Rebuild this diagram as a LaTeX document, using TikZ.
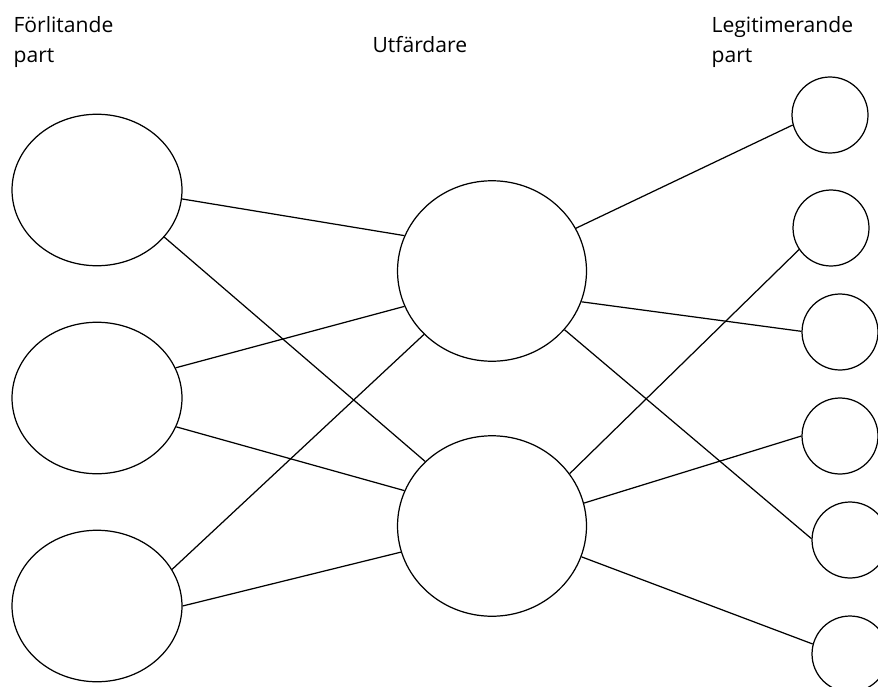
\documentclass[tikz,border=0pt]{standalone}
\usepackage{fontspec}
\setmainfont{Open Sans}
\usetikzlibrary{shapes.geometric}

\begin{document}
\begin{tikzpicture}
  %[x=0.02cm,y=-0.02cm,every node/.style={ellipse,draw}]
  [x=0.02cm,y=-0.02cm,line width=0.7pt,
   fp/.style={ellipse,draw,inner sep=0pt,minimum width=3.4cm,minimum height=3.03cm},
   up/.style={ellipse,draw,inner sep=0pt,minimum width=3.78cm,minimum height=3.61cm},
   lp/.style={circle,draw,inner sep=0pt,minimum size=1.52cm},
   lbl/.style={align=left,anchor=base west,inner sep=0pt,font=\fontsize{12}{17.1}\selectfont}]
  \useasboundingbox (0,0) rectangle (878,686);

  \node[lbl] (tf) at (13,63) {Förlitande\\part};
  \node[lbl] (tu) at (372,53) {Utfärdare};
  \node[lbl] (tl) at (711,63) {Legitimerande\\part};

  \node[fp] (nf1) at (97,190) {};
  \node[fp] (nf2) at (97,398) {};
  \node[fp] (nf3) at (97,606) {};

  \node[up] (nu1) at (492,271) {};
  \node[up] (nu2) at (492,526) {};

  \node[lp] (nl1) at (830,115) {};
  \node[lp] (nl2) at (831,228) {};
  \node[lp] (nl3) at (840,332) {};
  \node[lp] (nl4) at (840,436) {};
  \node[lp] (nl5) at (850,540) {};
  \node[lp] (nl6) at (850,654) {};

  \path (nf1.-6.6) edge (nu1.158.6);
  \path (nf1.-35.7) edge (nu2.136.6);
  \path (nf2.21.3) edge (nu1.-158.4);
  \path (nf2.-20.6) edge (nu2.158.7);
  \path (nf3.26.8) edge (nu1.-137.1);
  \path (nf3.0) edge (nu2.-164.5);

  \path (nu1.27.2) edge (nl1.-165.5);
  \path (nu1.-19.6) edge (nl3.179);
  \path (nu1.-39.5) edge (nl5.178.5);
  \path (nu2.34.8) edge (nl2.-146.7);
  \path (nu2.14.2) edge (nl4.180);
  \path (nu2.-19.6) edge (nl6.165.9);

\end{tikzpicture}
\end{document}
